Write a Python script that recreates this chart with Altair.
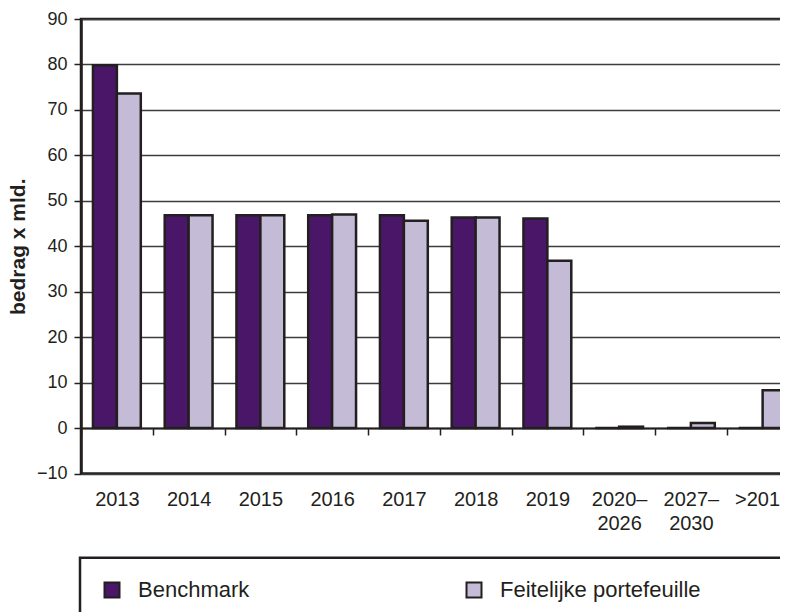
import altair as alt
import pandas as pd

# ---- data ----
categories = ["2013", "2014", "2015", "2016", "2017", "2018", "2019",
              "2020–2026", "2027–2030", ">2013"]
series_names = ["Benchmark", "Feitelijke portefeuille"]
benchmark = [79.8, 46.8, 46.8, 46.8, 46.8, 46.3, 46.1, 0.0, 0.0, 0.0]
feitelijk = [73.6, 46.8, 46.8, 47.0, 45.6, 46.3, 36.8, 0.3, 1.1, 8.3]
y_ticks = [-10, 0, 10, 20, 30, 40, 50, 60, 70, 80, 90]
y_title = "bedrag x mld."

rows = []
for c, b, f in zip(categories, benchmark, feitelijk):
    rows.append({"cat": c, "serie": series_names[0], "value": b})
    rows.append({"cat": c, "serie": series_names[1], "value": f})
df = pd.DataFrame(rows)

INK = "#231F20"
FONT = "Liberation Sans"
W = 717.5
H = 454.5

chart = alt.Chart(df).mark_bar(stroke=INK, strokeWidth=2.5).encode(
    x=alt.X(
        "cat:N",
        sort=categories,
        scale=alt.Scale(paddingInner=0, paddingOuter=0),
        axis=alt.Axis(
            title=None,
            orient="bottom",
            offset=-45.5,
            domain=True,
            domainColor=INK,
            domainWidth=2,
            ticks=True,
            tickBand="extent",
            tickColor=INK,
            tickWidth=1.5,
            tickSize=7,
            grid=False,
            labelAngle=0,
            labelFont=FONT,
            labelFontSize=20,
            labelColor=INK,
            labelPadding=54,
            labelLineHeight=24,
            labelLimit=200,
            labelExpr="length(datum.label) > 5 ? [substring(datum.label, 0, 5), substring(datum.label, 5)] : datum.label",
        ),
    ),
    xOffset=alt.XOffset(
        "serie:N",
        sort=series_names,
        scale=alt.Scale(paddingInner=0, paddingOuter=0.5),
    ),
    y=alt.Y(
        "value:Q",
        scale=alt.Scale(domain=[-10, 90], nice=False, zero=False),
        axis=alt.Axis(
            values=y_ticks,
            title=y_title,
            titleFont=FONT,
            titleFontSize=21,
            titleFontWeight="bold",
            titleColor=INK,
            titleAngle=270,
            titleX=-63,
            titleY=H / 2,
            titleAlign="center",
            titleBaseline="middle",
            domain=True,
            domainColor=INK,
            domainWidth=2.5,
            ticks=True,
            tickColor=INK,
            tickWidth=1.5,
            tickSize=7,
            grid=True,
            gridColor="#3c3c3c",
            gridWidth=1.5,
            labelFont=FONT,
            labelFontSize=18,
            labelColor=INK,
            labelPadding=7,
        ),
    ),
    color=alt.Color(
        "serie:N",
        sort=series_names,
        scale=alt.Scale(domain=series_names, range=["#4A1768", "#C4BCD6"]),
        legend=alt.Legend(
            title="\u00a0",
            titleOrient="right",
            titlePadding=160,
            orient="none",
            legendX=-1,
            legendY=538.7,
            direction="horizontal",
            symbolType="square",
            symbolSize=225,
            symbolStrokeColor=INK,
            symbolStrokeWidth=2,
            labelFont=FONT,
            labelFontSize=22,
            labelColor=INK,
            labelOffset=15,
            labelLimit=400,
            columnPadding=212,
            padding=21,
            strokeColor=INK,
        ),
    ),
).properties(
    width=W,
    height=H,
    autosize=alt.AutoSizeParams(type="none"),
    padding={"left": 73, "top": 11, "right": -18.5, "bottom": 138},
).configure(
    font=FONT,
).configure_view(
    stroke=INK,
    strokeWidth=2.5,
).configure_legend(
    strokeWidth=2.5,
)

chart.save("out.html", embed_options={"renderer": "svg", "actions": False})
